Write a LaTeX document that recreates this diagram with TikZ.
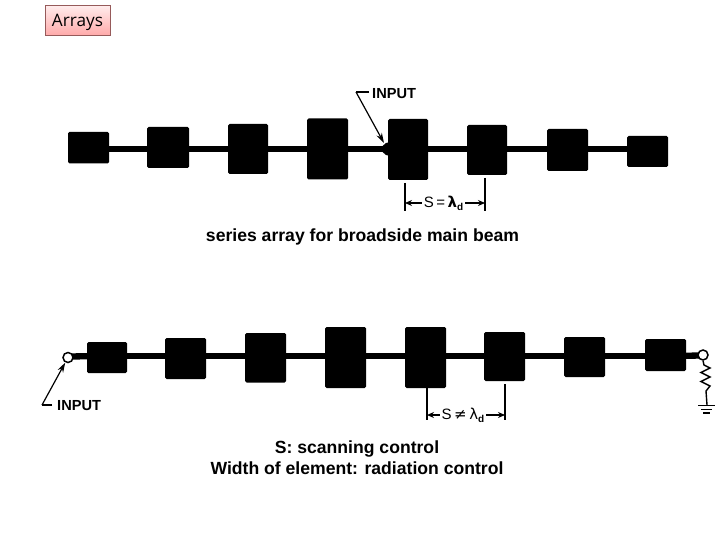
\documentclass[tikz,border=0pt]{standalone}
\usepackage{fontspec}
\setmainfont{Liberation Sans}
\newfontfamily\titlefont{Open Sans}
\newfontfamily\symfont{DejaVu Sans}
\usetikzlibrary{arrows.meta}
\tikzset{
  patch/.style={fill=black,rounded corners=1.5pt,inner sep=0pt,draw=none},
  feed/.style={line width=6.3pt,black},
  thin line/.style={line width=1.2pt,black},
  dimarrow/.style={line width=1.3pt,black,-{Stealth[length=7pt,width=6pt]}},
  inarrow/.style={line width=1.2pt,black,-{Stealth[length=10pt,width=6pt]}},
  caption/.style={font=\fontsize{17.6}{21}\selectfont\bfseries,inner sep=0pt,align=center},
  lab/.style={font=\fontsize{14.6}{16}\selectfont\bfseries,inner sep=0pt},
  dimlab/.style={font=\fontsize{15}{16}\selectfont,inner sep=0pt},
  port/.style={circle,draw=black,line width=1.5pt,fill=white,minimum size=10pt,inner sep=0pt}
}
\begin{document}
\begin{tikzpicture}[x=1pt,y=-1pt]
\useasboundingbox (0,0) rectangle (720,540);
\fill[white] (0,0) rectangle (720,540);
\node[draw={rgb,255:red,150;green,90;blue,90},line width=0.8pt,top color=white!70!pink,bottom color={rgb,255:red,255;green,170;blue,170},minimum width=65pt,minimum height=30pt,inner sep=0pt,font=\titlefont\fontsize{17.2}{19}\selectfont] (title) at (77.5,20.5) {\raisebox{-5.8pt}[0pt][0pt]{Arrays}};
% top array
\foreach \n/\xa/\xb/\ya/\yb in {1/68/109/132/163.5,2/147/189/127/168,3/228/268/124/174,4/307/348/118.5/179.5,5/388/428/119/180,6/467/507/125/175,7/547/588/129/171,8/627/668/136/167}{
  \node[patch,minimum width={\xb-\xa},minimum height={\yb-\ya}] (t\n) at ({(\xa+\xb)/2},{(\ya+\yb)/2}) {};
}
\foreach \n/\m in {1/2,2/3,3/4,4/5,5/6,6/7,7/8}{
  \coordinate (tl\n) at (t\n.center|-0,149);
  \coordinate (tl\m) at (t\m.center|-0,149);
  \draw[feed] (tl\n) -- (tl\m);
}
\fill (379,149) -- (386,143) -- (390,142) -- (390,156) -- (386,155) -- cycle;
\coordinate (tc) at (356,92);
\coordinate (ttail) at (369,92);
\coordinate (ttip) at (384,143);
\draw[thin line] (ttail) -- (tc);
\draw[inarrow] (tc) -- (ttip);
\node[lab,anchor=west] (tinput) at (372,94) {INPUT};
% top dimension
\coordinate (ta) at (405,183); \coordinate (tab) at (405,211);
\coordinate (tb) at (485,178); \coordinate (tbb) at (485,211);
\draw[thin line] (ta) -- (tab);
\draw[thin line] (tb) -- (tbb);
\node[dimlab] (ts) at (443.5,203) {S\,=\,{\symfont\bfseries λ}\raisebox{-3pt}{\fontsize{10}{10}\selectfont\bfseries d}};
\draw[dimarrow] (ts.west) ++(-2,0) -- (405,203);
\draw[dimarrow] (ts.east) ++(2,0) -- (485,203);
\node[caption] (cap1) at (362.5,237) {series array for broadside main beam};
% bottom array
\foreach \n/\xa/\xb/\ya/\yb in {1/87/127/342/373,2/165/206/338/379,3/245/286/333/382.5,4/325/366/327/388,5/405/446/327/388,6/484/525/332/381,7/564/605/337/377,8/645/686/339/371}{
  \node[patch,minimum width={\xb-\xa},minimum height={\yb-\ya}] (b\n) at ({(\xa+\xb)/2},{(\ya+\yb)/2}) {};
}
\foreach \n/\m in {1/2,2/3,3/4,4/5,5/6,6/7,7/8}{
  \coordinate (bl\n) at (b\n.center|-0,356);
  \coordinate (bl\m) at (b\m.center|-0,356);
  \draw[feed] (bl\n) -- (bl\m);
}
\coordinate (pla) at (68,356.5);
\coordinate (pra) at (703,355.5);
\draw[feed] (pla) -- (bl1);
\draw[feed] (bl8) -- (pra);
\node[port] (pl) at (68,357.5) {};
\node[port] (pr) at (703,355) {};
% input arrow bottom
\coordinate (bc) at (42,405);
\coordinate (btail) at (52,405);
\draw[thin line] (btail) -- (bc);
\draw[inarrow] (bc) -- (pl);
\node[lab,anchor=west] (binput) at (57,406) {INPUT};
% load
\coordinate (g) at (707,405);
\draw[line width=1.4pt] (pr.south) -- (704,365) -- (710,368) -- (701,372.5) -- (710,377) -- (701,381.5) -- (710,386) -- (706,391) -- (g);
\coordinate (g1a) at (698,405.5); \coordinate (g1b) at (715,405.5);
\coordinate (g2a) at (701,409.5); \coordinate (g2b) at (712,409.5);
\coordinate (g3a) at (703,413); \coordinate (g3b) at (710,413);
\draw[line width=1.6pt] (g1a) -- (g1b) (g2a) -- (g2b) (g3a) -- (g3b);
% bottom dimension
\coordinate (ba) at (427,388); \coordinate (bab) at (427,420);
\coordinate (bb) at (505,384); \coordinate (bbb) at (505,420);
\draw[thin line] (ba) -- (bab);
\draw[thin line] (bb) -- (bbb);
\node[dimlab] (bs) at (463,415) {S{\symfont\,≠\,λ}\raisebox{-3pt}{\fontsize{10}{10}\selectfont\bfseries d}};
\draw[dimarrow] (bs.west) ++(-2,0) -- (427,415);
\draw[dimarrow] (bs.east) ++(2,0) -- (505,415);
\node[caption] (cap2) at (357,458) {S: scanning control\\[0pt]Width of element: radiation control};
\end{tikzpicture}
\end{document}
